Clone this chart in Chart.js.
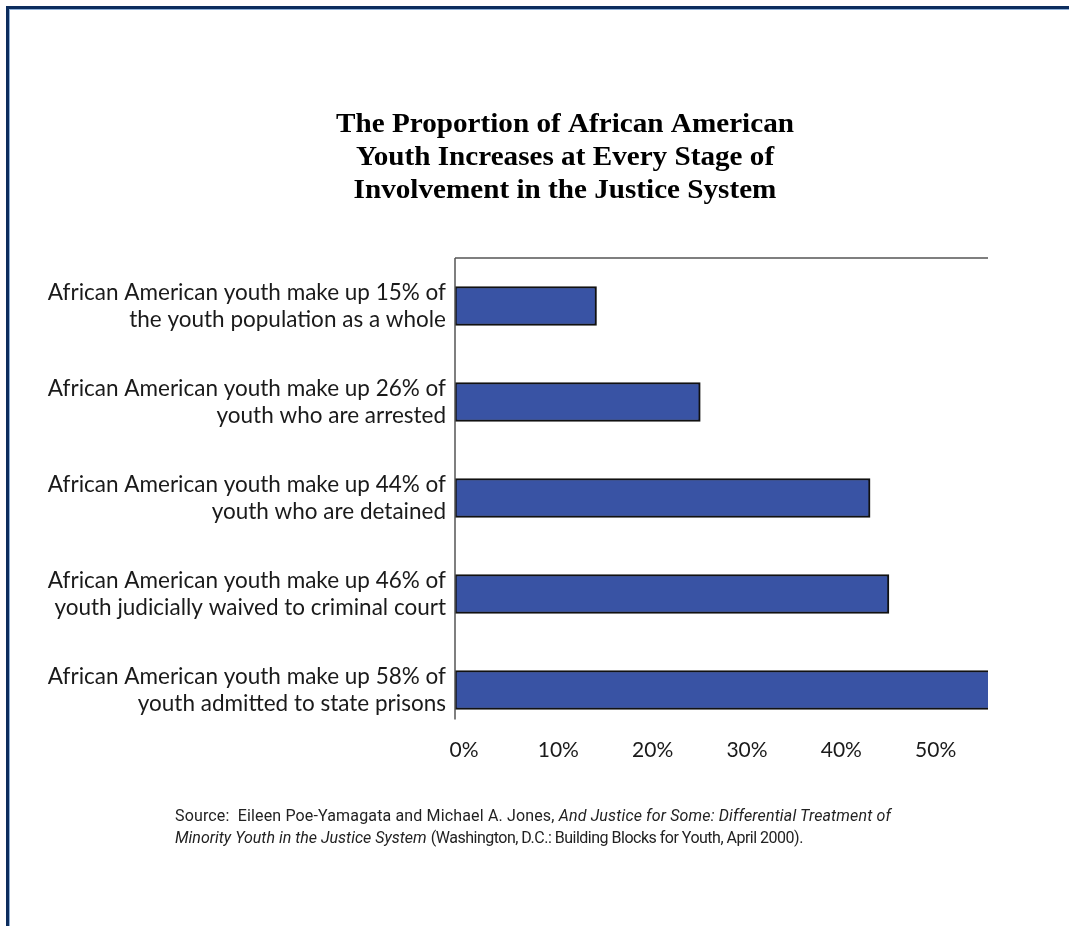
<!DOCTYPE html>
<html>
<head>
<meta charset="utf-8">
<script src="https://cdn.jsdelivr.net/npm/chart.js@4.4.1/dist/chart.umd.min.js"></script>
<style>
  html, body { margin: 0; padding: 0; background: #fff; overflow: hidden; }
  #page { position: relative; width: 1069px; height: 926px; overflow: hidden; }
  #frame {
    position: absolute; left: 6px; top: 6px; width: 1100px; height: 960px;
    border-top: 3px solid #0d2d5e; border-left: 3px solid #0d2d5e;
    box-shadow: inset 1px 1px 0 #8fb0d8;
  }
  #chart { position: absolute; left: 0; top: 0; }
  #source {
    position: absolute; left: 175px; top: 805px; width: 850px; white-space: nowrap;
    font-family: "Roboto", sans-serif;
    font-size: 16px; line-height: 22px; color: #222;
  }
  .l1 { letter-spacing: 0.15px; }
  .tight { letter-spacing: -0.5px; }
</style>
</head>
<body>
<div id="page">
  <div id="frame"></div>
  <canvas id="chart" width="1069" height="926"></canvas>
  <div id="source"><span class="l1">Source:&nbsp; Eileen Poe-Yamagata and Michael A. Jones, <i>And Justice for Some: Differential Treatment of</i></span><br><i>Minority Youth in the Justice System</i> <span class="tight">(Washington, D.C.: Building Blocks for Youth, April 2000).</span></div>
</div>
<script>
// chart data
const titleLines = [
  "The Proportion of African American",
  "Youth Increases at Every Stage of",
  "Involvement in the Justice System"
];

const stages = [
  ["African American youth make up 15% of", "the youth population as a whole"],
  ["African American youth make up 26% of", "youth who are arrested"],
  ["African American youth make up 44% of", "youth who are detained"],
  ["African American youth make up 46% of", "youth judicially waived to criminal court"],
  ["African American youth make up 58% of", "youth admitted to state prisons"]
];

const shares = [15, 26, 44, 46, 58];

const xTicks = [0, 10, 20, 30, 40, 50];

// title is drawn by hand so it can sit off-centre like the original
const titleBlock = {
  id: 'titleBlock',
  afterDraw(chart) {
    const ctx = chart.ctx;
    ctx.save();
    ctx.fillStyle = '#000';
    ctx.font = 'bold 27px "Liberation Serif", "Times New Roman", serif';
    ctx.textAlign = 'center';
    ctx.textBaseline = 'alphabetic';
    titleLines.forEach((line, i) => {
      ctx.save();
      ctx.translate(565, 132 + i * 33);
      ctx.scale(1.08, 1);
      ctx.fillText(line, 0, 0);
      ctx.restore();
    });
    ctx.restore();
  }
};

// draws the top and left frame lines of the plot
const axisLines = {
  id: 'axisLines',
  afterDraw(chart) {
    const ctx = chart.ctx;
    const area = chart.chartArea;
    const bars = chart.getDatasetMeta(0).data;
    const last = bars[bars.length - 1];
    const bottom = last.y + last.height / 2 + 10;
    ctx.save();
    ctx.strokeStyle = '#555';
    ctx.lineWidth = 1.5;
    ctx.beginPath();
    ctx.moveTo(area.left, area.top);
    ctx.lineTo(area.right, area.top);
    ctx.moveTo(area.left, area.top);
    ctx.lineTo(area.left, bottom);
    ctx.stroke();
    ctx.restore();
  }
};

const ctx = document.getElementById('chart');

var myChart = new Chart(ctx, {
  type: 'bar',
  plugins: [titleBlock, axisLines],
  data: {
    labels: stages,
    datasets: [{
      label: 'Share of youth',
      data: shares,
      backgroundColor: '#3953a4',
      borderColor: '#111',
      borderWidth: 2,
      borderSkipped: false,
      barThickness: 39
    }]
  },
  options: {
    indexAxis: 'y',
    responsive: false,
    animation: false,
    layout: {
      padding: { left: 0, right: 81, top: 258, bottom: 148 }
    },
    plugins: {
      legend: { display: false },
      tooltip: { enabled: false },
      title: { display: false }
    },
    scales: {
      x: {
        min: 0,
        max: 56.5,
        afterBuildTicks: (scale) => {
          scale.ticks = xTicks.map(v => ({ value: v }));
        },
        afterFit: (scale) => { scale.height = 40; },
        grid: { display: false, drawTicks: false },
        border: { display: false },
        ticks: {
          color: '#1a1a1a',
          padding: 0,
          labelOffset: 9,
          font: { family: 'Lato, sans-serif', size: 21 },
          callback: (v) => v + '%'
        }
      },
      y: {
        afterFit: (scale) => { scale.width = 455; },
        grid: { display: false, drawTicks: false },
        border: { display: false },
        ticks: {
          color: '#1a1a1a',
          padding: 9,
          font: { family: 'Lato, sans-serif', size: 22.5, lineHeight: 1.18 }
        }
      }
    }
  }
});
</script>
</body>
</html>
